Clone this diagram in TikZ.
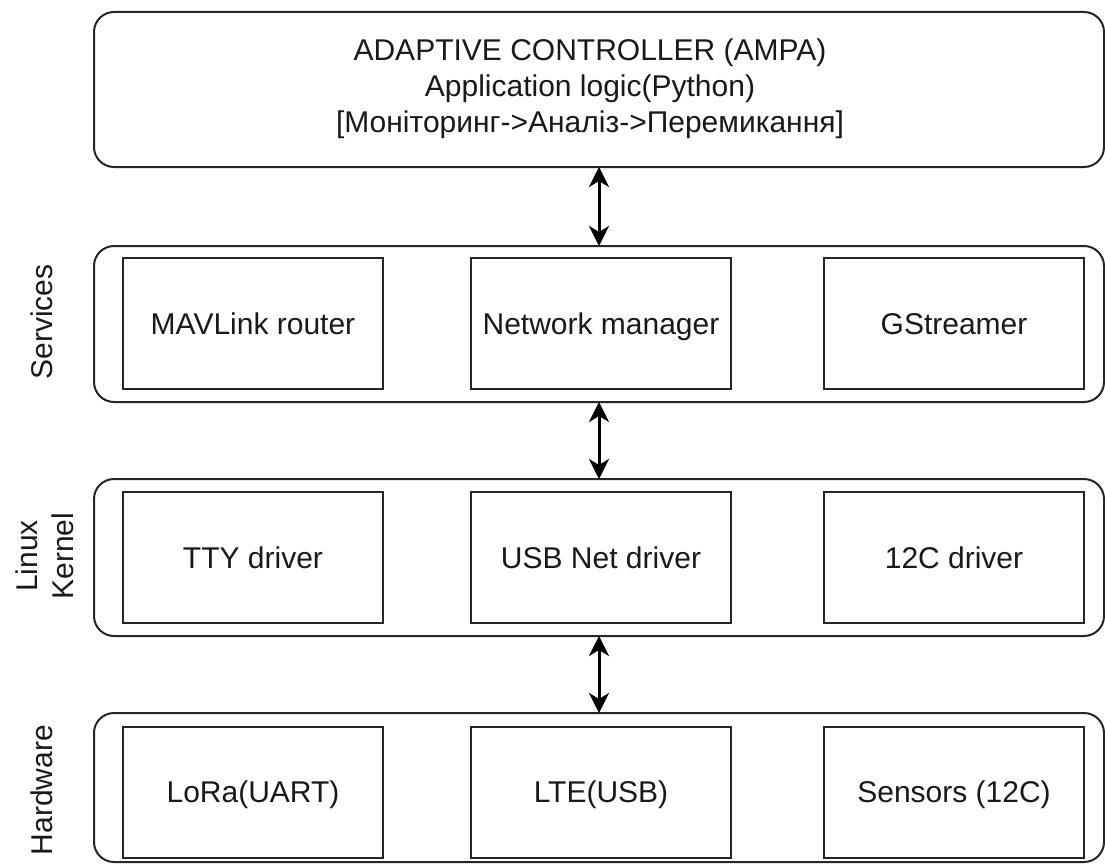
\documentclass[tikz,border=0pt]{standalone}
\usepackage{fontspec}
\setmainfont{Liberation Sans}
\usetikzlibrary{arrows.meta}
\begin{document}
\begin{tikzpicture}[x=1pt,y=-1pt,
  every node/.style={font=\fontsize{30}{36}\selectfont, text=black!90},
  band/.style={draw=black!85, line width=2pt, rounded corners=20pt, minimum width=1010pt, inner sep=0pt, outer sep=0pt},
  inbox/.style={draw=black!85, line width=2pt, minimum width=260pt, minimum height=131pt, inner sep=0pt, outer sep=0pt, text height=22pt, text depth=1pt},
  lay/.style={rotate=90, align=center},
  link/.style={line width=3pt, {Stealth[length=20pt,width=20pt,inset=6pt]}-{Stealth[length=20pt,width=20pt,inset=6pt]}}
]
\useasboundingbox (0,0) rectangle (1105,864);
% top
\node[band, minimum height=155pt] (top) at (599,89.5) {};
\node[align=center] (toptext) at (590,89) {ADAPTIVE CONTROLLER (AMPA)\\Application logic(Python)\\{[}Моніторинг->Аналіз->Перемикання{]}};
% services
\node[band, minimum height=156pt] (svc) at (599,324) {};
\node[inbox] (mav) at (253,323.5) {MAVLink router};
\node[inbox] (net) at (601,323.5) {Network manager};
\node[inbox] (gst) at (954,323.5) {GStreamer};
\node[lay] (lsvc) at (42,322) {Services};
% kernel
\node[band, minimum height=157pt] (ker) at (599,557.5) {};
\node[inbox] (tty) at (253,557.5) {TTY driver};
\node[inbox] (usb) at (601,557.5) {USB Net driver};
\node[inbox] (i2c) at (954,557.5) {12C driver};
\node[lay, inner sep=0pt] (lker) at (45,556) {Linux\\Kernel};
% hardware
\node[band, minimum height=149pt] (hw) at (599,787.5) {};
\node[inbox] (lora) at (253,792) {LoRa(UART)};
\node[inbox] (lte) at (601,792) {LTE(USB)};
\node[inbox] (sens) at (954,792) {Sensors (12C)};
\node[lay] (lhw) at (42,790) {Hardware};
% arrows
\draw[link] (top.south) -- (svc.north);
\draw[link] (svc.south) -- (ker.north);
\draw[link] (ker.south) -- (hw.north);
\end{tikzpicture}
\end{document}
